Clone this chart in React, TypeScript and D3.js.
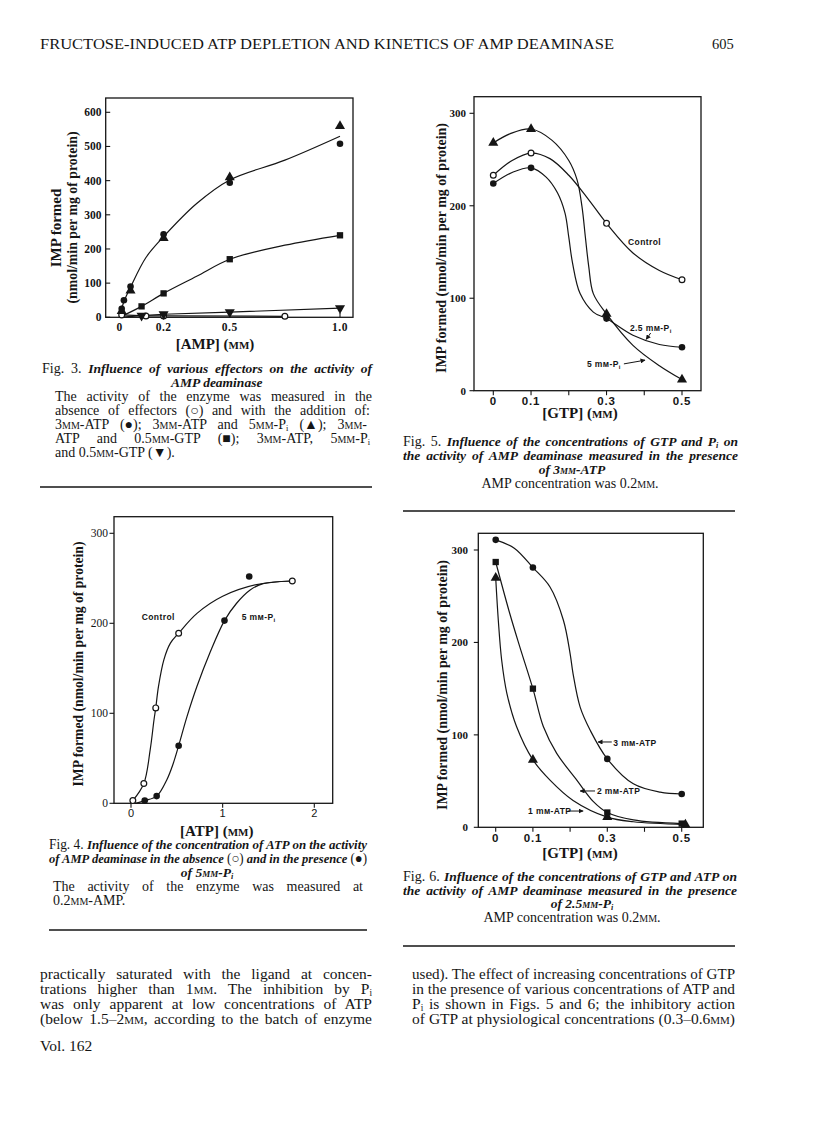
import React, { useLayoutEffect, useRef } from "react";
import * as d3 from "d3";

const SERIF = '"Liberation Serif", "Times New Roman", serif';
const SANS = '"Liberation Sans", Arial, sans-serif';
const INK = "#151515";

// ---------------- Fig. 3 data : IMP formed vs [AMP] ----------------
const f3XTicks = [0, 0.2, 0.5, 1.0];
const f3XTickLabels = ["0", "0.2", "0.5", "1.0"];
const f3YTicks = [0, 100, 200, 300, 400, 500, 600];
const f3AtpX = [0.01, 0.02, 0.05, 0.2, 0.5, 1.0];
const f3AtpY = [25, 50, 90, 243, 394, 508];
const f3AtpPiX = [0.01, 0.05, 0.2, 0.5, 1.0];
const f3AtpPiY = [18, 78, 232, 410, 560];
const f3AtpGtpX = [0.1, 0.2, 0.5, 1.0];
const f3AtpGtpY = [32, 70, 170, 240];
const f3AllX = [0.1, 0.2, 0.5, 1.0];
const f3AllY = [5, 9, 15, 27];
const f3CtrlX = [0.01, 0.12, 0.2, 0.75];
const f3CtrlY = [7, 4, 4, 3];
// hand-drawn fitted curves (traced)
const f3FitAtpX = [0, 0.01, 0.02, 0.05, 0.12, 0.2, 0.35, 0.5, 0.75, 1.0];
const f3FitAtpY = [0, 24, 46, 88, 175, 236, 333, 402, 460, 530];
const f3FitGtpX = [0, 0.1, 0.2, 0.35, 0.5, 0.75, 1.0];
const f3FitGtpY = [0, 32, 70, 120, 170, 211, 240];
const f3FitAllX = [0, 0.1, 0.2, 0.5, 1.0];
const f3FitAllY = [0, 5, 9, 15, 27];
const f3FitCtrlX = [0.01, 0.12, 0.2, 0.75];
const f3FitCtrlY = [7, 4, 4, 3];

// ---------------- Fig. 4 data : IMP formed vs [ATP] ----------------
const f4XTicks = [0, 1, 2];
const f4YTicks = [0, 100, 200, 300];
const f4CtrlX = [0.02, 0.14, 0.27, 0.52, 1.76];
const f4CtrlY = [3, 22, 106, 189, 247];
const f4PiX = [0.15, 0.28, 0.52, 1.02, 1.29];
const f4PiY = [3, 8, 64, 203, 252];
const f4FitCtrlX = [0.02, 0.14, 0.21, 0.25, 0.27, 0.3, 0.36, 0.43, 0.52, 0.72, 1.0, 1.37, 1.76];
const f4FitCtrlY = [3, 22, 60, 92, 106, 130, 160, 178, 189, 211, 230, 243, 247];
const f4FitPiX = [0.05, 0.15, 0.28, 0.39, 0.46, 0.52, 0.61, 0.72, 0.86, 1.02, 1.15, 1.3, 1.44, 1.76];
const f4FitPiY = [0, 3, 8, 26, 44, 64, 96, 130, 167, 203, 222, 237, 244, 247];

// ---------------- Fig. 5 data : IMP formed vs [GTP], 3mM-ATP ----------------
const f5XTicks = [0, 0.1, 0.2, 0.3, 0.4, 0.5];
const f5XLabelled = [0, 0.1, 0.3, 0.5];
const f5YTicks = [0, 100, 200, 300];
const f5X = [0, 0.1, 0.3, 0.5];
const f5Ctrl = [233, 257, 181, 120];
const f5Pi25 = [224, 241, 78, 47];
const f5Pi5 = [268, 283, 83, 12];
const f5FitCtrlX = [0, 0.05, 0.1, 0.15, 0.2, 0.25, 0.3, 0.37, 0.44, 0.5];
const f5FitCtrlY = [233, 249, 257, 251, 233, 208, 181, 149, 130, 120];
const f5FitPi25X = [0, 0.05, 0.1, 0.14, 0.17, 0.19, 0.2, 0.21, 0.23, 0.265, 0.3, 0.37, 0.44, 0.5];
const f5FitPi25Y = [224, 236, 241, 231, 214, 192, 166, 138, 105, 85, 78, 60, 50, 47];
const f5FitPi5X = [0, 0.045, 0.1, 0.155, 0.2, 0.222, 0.235, 0.244, 0.253, 0.265, 0.3, 0.37, 0.44, 0.5];
const f5FitPi5Y = [268, 278, 283, 271, 249, 228, 199, 166, 134, 105, 83, 49, 27, 12];

// ---------------- Fig. 6 data : IMP formed vs [GTP], 2.5mM-Pi ----------------
const f6XTicks = [0, 0.1, 0.2, 0.3, 0.4, 0.5];
const f6XLabelled = [0, 0.1, 0.3, 0.5];
const f6YTicks = [0, 100, 200, 300];
const f6X = [0, 0.1, 0.3, 0.5];
const f6Atp3 = [311, 281, 74, 36];
const f6Atp2 = [287, 150, 16, 4];
const f6Atp1X = [0, 0.1, 0.3, 0.51];
const f6Atp1 = [270, 73, 11, 3];
const f6FitAtp3X = [0, 0.05, 0.1, 0.146, 0.182, 0.2, 0.208, 0.227, 0.254, 0.3, 0.37, 0.442, 0.5];
const f6FitAtp3Y = [311, 302, 281, 260, 224, 188, 166, 130, 105, 74, 47, 38, 36];
const f6FitAtp2X = [0, 0.038, 0.065, 0.1, 0.128, 0.164, 0.218, 0.262, 0.3, 0.37, 0.5];
const f6FitAtp2Y = [287, 231, 195, 150, 109, 80, 51, 28, 16, 8, 4];
const f6FitAtp1X = [0, 0.007, 0.016, 0.03, 0.056, 0.1, 0.146, 0.208, 0.3, 0.37, 0.51];
const f6FitAtp1Y = [270, 224, 181, 145, 109, 73, 51, 29, 11, 6, 3];

type Shape = "dot" | "ring" | "tri" | "square" | "down";
type Pts = { xs: number[]; ys: number[] };

const zipPts = (xs: number[], ys: number[]) => xs.map((v, i) => [v, ys[i]] as [number, number]);

function Marker({ shape, cx, cy }: { shape: Shape; cx: number; cy: number }) {
  if (shape === "dot") return <circle cx={cx} cy={cy} r={3.3} fill={INK} />;
  if (shape === "ring")
    return <circle cx={cx} cy={cy} r={2.9} fill="#fff" stroke={INK} strokeWidth={1.2} />;
  const type = shape === "square" ? d3.symbolSquare : d3.symbolTriangle;
  const size = shape === "square" ? 40 : 44;
  const p = d3.symbol(type, size)() as string;
  const rot = shape === "down" ? 180 : 0;
  return <path d={p} transform={`translate(${cx},${cy}) rotate(${rot})`} fill={INK} />;
}

const Pi = () => (
  <>
    P<tspan baselineShift="-1.5" fontSize="0.6em">i</tspan>
  </>
);
const MM = () => <tspan style={{ fontVariant: "small-caps" }}>mm</tspan>;

// Justified text: word-spacing computed from the rendered width;
// if the line is naturally too wide it is squeezed instead.
function JText({
  x,
  y,
  width,
  children,
}: {
  x: number;
  y: number;
  width: number;
  children: React.ReactNode;
}) {
  const ref = useRef<SVGTextElement>(null);
  useLayoutEffect(() => {
    const fit = () => {
      const el = ref.current;
      if (!el) return;
      el.removeAttribute("textLength");
      el.removeAttribute("lengthAdjust");
      el.style.wordSpacing = "0px";
      const w = el.getComputedTextLength();
      const spaces = ((el.textContent || "").match(/ /g) || []).length;
      if (w > width) {
        el.setAttribute("textLength", String(width));
        el.setAttribute("lengthAdjust", "spacingAndGlyphs");
      } else if (spaces > 0) {
        el.style.wordSpacing = `${(width - w) / spaces}px`;
      }
    };
    fit();
    if ((document as any).fonts && (document as any).fonts.ready) {
      (document as any).fonts.ready.then(fit);
    }
  });
  return (
    <text ref={ref} x={x} y={y}>
      {children}
    </text>
  );
}

type PlotProps = {
  frame: [number, number, number, number];
  xDomain: [number, number];
  xRange: [number, number];
  yDomain: [number, number];
  yRange: [number, number];
  xTicks: number[];
  xLabelled: number[];
  xFmt: (v: number) => string;
  yTicks: number[];
  tickOut: boolean;
  yLabelRight: number;
  xLabelBase: number;
  yFont: { family: string; size: number; weight: number };
  xFont: { family: string; size: number; weight: number; ls?: number };
  series: { pts: Pts; shape: Shape }[];
  curves: { pts: Pts; curve: "smooth" | "straight" }[];
  extra?: (x: d3.ScaleLinear<number, number>, y: d3.ScaleLinear<number, number>) => React.ReactNode;
};

function Plot(p: PlotProps) {
  const x = d3.scaleLinear().domain(p.xDomain).range(p.xRange);
  const y = d3.scaleLinear().domain(p.yDomain).range(p.yRange);
  const [x0, y0, x1, y1] = p.frame;
  const smooth = d3
    .line<[number, number]>()
    .x((d) => x(d[0]))
    .y((d) => y(d[1]))
    .curve(d3.curveCatmullRom.alpha(0.5));
  const straight = d3
    .line<[number, number]>()
    .x((d) => x(d[0]))
    .y((d) => y(d[1]));
  const tl = 4.5;
  return (
    <g>
      <rect x={x0} y={y0} width={x1 - x0} height={y1 - y0} fill="none" stroke={INK} strokeWidth={1.3} />
      {p.yTicks.map((t) => (
        <g key={"y" + t}>
          <line
            x1={p.tickOut ? x0 - tl : x0}
            x2={p.tickOut ? x0 : x0 + tl}
            y1={y(t)}
            y2={y(t)}
            stroke={INK}
            strokeWidth={1.1}
          />
          <text
            x={p.yLabelRight}
            y={y(t)}
            dy="0.35em"
            textAnchor="end"
            fontFamily={p.yFont.family}
            fontSize={p.yFont.size}
            fontWeight={p.yFont.weight}
            fill={INK}
          >
            {t}
          </text>
        </g>
      ))}
      {p.xTicks.map((t) => (
        <line
          key={"x" + t}
          x1={x(t)}
          x2={x(t)}
          y1={y1}
          y2={p.tickOut ? y1 + tl : y1 - tl}
          stroke={INK}
          strokeWidth={1.1}
        />
      ))}
      {p.xLabelled.map((t) => (
        <text
          key={"xl" + t}
          x={x(t)}
          y={p.xLabelBase}
          textAnchor="middle"
          fontFamily={p.xFont.family}
          fontSize={p.xFont.size}
          fontWeight={p.xFont.weight}
          letterSpacing={p.xFont.ls || 0}
          fill={INK}
        >
          {p.xFmt(t)}
        </text>
      ))}
      {p.curves.map((c, i) => (
        <path
          key={"c" + i}
          d={(c.curve === "smooth" ? smooth : straight)(zipPts(c.pts.xs, c.pts.ys)) as string}
          fill="none"
          stroke={INK}
          strokeWidth={1.2}
        />
      ))}
      {p.series.map((s, i) =>
        s.pts.xs.map((v, j) => (
          <Marker key={"m" + i + "_" + j} shape={s.shape} cx={x(v)} cy={y(s.pts.ys[j])} />
        ))
      )}
      {p.extra ? p.extra(x, y) : null}
    </g>
  );
}

const capStyle = { fontFamily: SERIF, fontSize: 14, fill: INK } as const;
const bodyStyle = { fontFamily: SERIF, fontSize: 15.5, fill: INK } as const;
const It = ({ children }: { children: React.ReactNode }) => (
  <tspan fontStyle="italic" fontWeight="bold" fontSize={13.5}>
    {children}
  </tspan>
);

function Ann({ x, y, text }: { x: number; y: number; text: React.ReactNode }) {
  return (
    <text x={x} y={y} fontFamily={SANS} fontSize={8.5} fontWeight="bold" fill={INK} letterSpacing={0.4}>
      {text}
    </text>
  );
}
function Arrow({ x1, y1, x2, y2 }: { x1: number; y1: number; x2: number; y2: number }) {
  return <line x1={x1} y1={y1} x2={x2} y2={y2} stroke={INK} strokeWidth={1} markerEnd="url(#ah)" />;
}

const mmPi = (num: string) => (
  <>
    {num} mм-P<tspan baselineShift="-1.5" fontSize="0.7em">i</tspan>
  </>
);

export default function App() {
  const tickSerifB = { family: SERIF, size: 11, weight: 700 };
  const tickSansB = { family: SANS, size: 11.5, weight: 700, ls: 0.8 };
  const fmt1 = (v: number) => (v === 0 ? "0" : v.toFixed(1));
  const axTitle = { fontFamily: SERIF, fontSize: 15, fontWeight: "bold", fill: INK } as const;
  return (
    <svg
      width={816}
      height={1136}
      viewBox="0 0 816 1136"
      style={{ position: "absolute", left: 0, top: 0, background: "#fff" }}
    >
      <defs>
        <marker id="ah" viewBox="0 0 10 10" refX="9" refY="5" markerWidth="5" markerHeight="5" orient="auto">
          <path d="M0,0 L10,5 L0,10 z" fill={INK} />
        </marker>
      </defs>
      <rect width={816} height={1136} fill="#fff" />

      {/* Running head */}
      <text x={40} y={49} fontFamily={SERIF} fontSize={14.5} fill={INK} textLength={574} lengthAdjust="spacingAndGlyphs">
        FRUCTOSE-INDUCED ATP DEPLETION AND KINETICS OF AMP DEAMINASE
      </text>
      <text x={712} y={49} fontFamily={SERIF} fontSize={14.5} fill={INK}>
        605
      </text>

      {/* ---------------- Fig. 3 ---------------- */}
      <Plot
        frame={[105.7, 98, 353, 317.3]}
        xDomain={[0, 1]}
        xRange={[119.5, 340]}
        yDomain={[0, 600]}
        yRange={[317.3, 112.3]}
        xTicks={f3XTicks}
        xLabelled={f3XTicks}
        xFmt={(v) => f3XTickLabels[f3XTicks.indexOf(v)]}
        yTicks={f3YTicks}
        tickOut={false}
        yLabelRight={101.5}
        xLabelBase={331}
        yFont={{ family: SERIF, size: 11.5, weight: 700 }}
        xFont={{ family: SERIF, size: 11.5, weight: 700, ls: 0.5 }}
        curves={[
          { pts: { xs: f3FitAtpX, ys: f3FitAtpY }, curve: "smooth" },
          { pts: { xs: f3FitGtpX, ys: f3FitGtpY }, curve: "smooth" },
          { pts: { xs: f3FitAllX, ys: f3FitAllY }, curve: "straight" },
          { pts: { xs: f3FitCtrlX, ys: f3FitCtrlY }, curve: "straight" },
        ]}
        series={[
          { pts: { xs: f3CtrlX, ys: f3CtrlY }, shape: "ring" },
          { pts: { xs: f3AllX, ys: f3AllY }, shape: "down" },
          { pts: { xs: f3AtpGtpX, ys: f3AtpGtpY }, shape: "square" },
          { pts: { xs: f3AtpPiX, ys: f3AtpPiY }, shape: "tri" },
          { pts: { xs: f3AtpX, ys: f3AtpY }, shape: "dot" },
        ]}
      />
      <text transform="translate(56,228) rotate(-90)" textAnchor="middle" dominantBaseline="central" {...axTitle}>
        IMP formed
      </text>
      <text transform="translate(72,217.5) rotate(-90)" textAnchor="middle" dominantBaseline="central" {...axTitle} fontSize={14} textLength={172} lengthAdjust="spacingAndGlyphs">
        (nmol/min per mg of protein)
      </text>
      <text x={215} y={349} textAnchor="middle" {...axTitle}>
        [AMP] (<MM />)
      </text>

      <g {...capStyle}>
        <JText x={42} y={373} width={330}>
          Fig. 3. <It>Influence of various effectors on the activity of</It>
        </JText>
        <text x={216.7} y={387} textAnchor="middle">
          <It>AMP deaminase</It>
        </text>
        <JText x={55} y={401} width={317}>
          The activity of the enzyme was measured in the
        </JText>
        <JText x={55} y={415} width={315}>
          absence of effectors (○) and with the addition of:
        </JText>
        <JText x={55} y={429} width={312}>
          3<MM />-ATP (●); 3<MM />-ATP and 5<MM />-<Pi /> (▲); 3<MM />-
        </JText>
        <JText x={55} y={443} width={315}>
          ATP and 0.5<MM />-GTP (■); 3<MM />-ATP, 5<MM />-<Pi />
        </JText>
        <text x={55} y={457}>
          and 0.5<MM />-GTP (▼).
        </text>
      </g>
      <line x1={40} x2={372} y1={487} y2={487} stroke={INK} strokeWidth={1.3} />

      {/* ---------------- Fig. 5 ---------------- */}
      <Plot
        frame={[474, 96.7, 701, 390.7]}
        xDomain={[0, 0.5]}
        xRange={[493.3, 682]}
        yDomain={[0, 300]}
        yRange={[390.7, 113.3]}
        xTicks={f5XTicks}
        xLabelled={f5XLabelled}
        xFmt={fmt1}
        yTicks={f5YTicks}
        tickOut={true}
        yLabelRight={466}
        xLabelBase={405}
        yFont={tickSerifB}
        xFont={tickSansB}
        curves={[
          { pts: { xs: f5FitCtrlX, ys: f5FitCtrlY }, curve: "smooth" },
          { pts: { xs: f5FitPi25X, ys: f5FitPi25Y }, curve: "smooth" },
          { pts: { xs: f5FitPi5X, ys: f5FitPi5Y }, curve: "smooth" },
        ]}
        series={[
          { pts: { xs: f5X, ys: f5Ctrl }, shape: "ring" },
          { pts: { xs: f5X, ys: f5Pi25 }, shape: "dot" },
          { pts: { xs: f5X, ys: f5Pi5 }, shape: "tri" },
        ]}
        extra={(x, y) => (
          <g>
            <Ann x={x(0.357)} y={y(157.6)} text="Control" />
            <Ann x={x(0.362)} y={y(64.6)} text={mmPi("2.5")} />
            <Arrow x1={x(0.417)} y1={y(62.4)} x2={x(0.405)} y2={y(55.5)} />
            <Ann x={x(0.248)} y={y(25.6)} text={mmPi("5")} />
            <Arrow x1={x(0.346)} y1={y(29)} x2={x(0.402)} y2={y(33)} />
          </g>
        )}
      />
      <text transform="translate(440.5,248) rotate(-90)" textAnchor="middle" dominantBaseline="central" {...axTitle} textLength={250} lengthAdjust="spacingAndGlyphs">
        IMP formed (nmol/min per mg of protein)
      </text>
      <text x={580} y={418} textAnchor="middle" {...axTitle}>
        [GTP] (<MM />)
      </text>
      <g {...capStyle}>
        <JText x={403} y={446} width={335}>
          Fig. 5. <It>Influence of the concentrations of GTP and <Pi /> on</It>
        </JText>
        <JText x={403} y={460} width={335}>
          <It>the activity of AMP deaminase measured in the presence</It>
        </JText>
        <text x={572} y={474} textAnchor="middle">
          <It>
            of 3<MM />-ATP
          </It>
        </text>
        <text x={570} y={488} textAnchor="middle">
          AMP concentration was 0.2<MM />.
        </text>
      </g>
      <line x1={403} x2={735} y1={511} y2={511} stroke={INK} strokeWidth={1.3} />

      {/* ---------------- Fig. 4 ---------------- */}
      <Plot
        frame={[114, 516.7, 332.7, 803.3]}
        xDomain={[0, 2]}
        xRange={[131, 314.3]}
        yDomain={[0, 300]}
        yRange={[803.3, 533.3]}
        xTicks={f4XTicks}
        xLabelled={f4XTicks}
        xFmt={(v) => String(v)}
        yTicks={f4YTicks}
        tickOut={true}
        yLabelRight={108}
        xLabelBase={817}
        yFont={{ family: SERIF, size: 11.5, weight: 400 }}
        xFont={{ family: SANS, size: 11, weight: 400 }}
        curves={[
          { pts: { xs: f4FitCtrlX, ys: f4FitCtrlY }, curve: "smooth" },
          { pts: { xs: f4FitPiX, ys: f4FitPiY }, curve: "smooth" },
        ]}
        series={[
          { pts: { xs: f4CtrlX, ys: f4CtrlY }, shape: "ring" },
          { pts: { xs: f4PiX, ys: f4PiY }, shape: "dot" },
        ]}
        extra={(x, y) => (
          <g>
            <Ann x={x(0.117)} y={y(203.7)} text="Control" />
            <Ann x={x(1.208)} y={y(203.7)} text={mmPi("5")} />
          </g>
        )}
      />
      <text transform="translate(78.3,664) rotate(-90)" textAnchor="middle" dominantBaseline="central" {...axTitle} textLength={245} lengthAdjust="spacingAndGlyphs">
        IMP formed (nmol/min per mg of protein)
      </text>
      <text x={216.7} y={836} textAnchor="middle" {...axTitle}>
        [ATP] (<MM />)
      </text>
      <g {...capStyle}>
        <JText x={49} y={849} width={318}>
          Fig. 4. <It>Influence of the concentration of ATP on the activity</It>
        </JText>
        <JText x={49} y={863} width={318}>
          <It>of AMP deaminase in the absence </It>(○)<It> and in the presence </It>(●)
        </JText>
        <text x={207} y={877} textAnchor="middle">
          <It>
            of 5<MM />-<Pi />
          </It>
        </text>
        <JText x={53} y={891} width={310}>
          The activity of the enzyme was measured at
        </JText>
        <text x={53} y={905}>
          0.2<MM />-AMP.
        </text>
      </g>
      <line x1={49} x2={367} y1={930} y2={930} stroke={INK} strokeWidth={1.3} />

      {/* ---------------- Fig. 6 ---------------- */}
      <Plot
        frame={[478.3, 533.3, 703.3, 827.3]}
        xDomain={[0, 0.5]}
        xRange={[495.7, 681.7]}
        yDomain={[0, 300]}
        yRange={[827.3, 550]}
        xTicks={f6XTicks}
        xLabelled={f6XLabelled}
        xFmt={fmt1}
        yTicks={f6YTicks}
        tickOut={true}
        yLabelRight={468}
        xLabelBase={842}
        yFont={tickSerifB}
        xFont={tickSansB}
        curves={[
          { pts: { xs: f6FitAtp3X, ys: f6FitAtp3Y }, curve: "smooth" },
          { pts: { xs: f6FitAtp2X, ys: f6FitAtp2Y }, curve: "smooth" },
          { pts: { xs: f6FitAtp1X, ys: f6FitAtp1Y }, curve: "smooth" },
        ]}
        series={[
          { pts: { xs: f6X, ys: f6Atp3 }, shape: "dot" },
          { pts: { xs: f6X, ys: f6Atp2 }, shape: "square" },
          { pts: { xs: f6Atp1X, ys: f6Atp1 }, shape: "tri" },
        ]}
        extra={(x, y) => (
          <g>
            <Arrow x1={x(0.312)} y1={y(92.3)} x2={x(0.275)} y2={y(92.3)} />
            <Ann x={x(0.316)} y={y(88)} text={<>3 mм-ATP</>} />
            <Arrow x1={x(0.267)} y1={y(39.3)} x2={x(0.227)} y2={y(39.3)} />
            <Ann x={x(0.272)} y={y(36)} text={<>2 mм-ATP</>} />
            <Ann x={x(0.087)} y={y(14.4)} text={<>1 mм-ATP</>} />
            <Arrow x1={x(0.194)} y1={y(17.6)} x2={x(0.235)} y2={y(17.6)} />
          </g>
        )}
      />
      <text transform="translate(441.5,685) rotate(-90)" textAnchor="middle" dominantBaseline="central" {...axTitle} textLength={250} lengthAdjust="spacingAndGlyphs">
        IMP formed (nmol/min per mg of protein)
      </text>
      <text x={580} y={858} textAnchor="middle" {...axTitle}>
        [GTP] (<MM />)
      </text>
      <g {...capStyle}>
        <JText x={403} y={881} width={334}>
          Fig. 6. <It>Influence of the concentrations of GTP and ATP on</It>
        </JText>
        <JText x={403} y={895} width={334}>
          <It>the activity of AMP deaminase measured in the presence</It>
        </JText>
        <text x={582} y={908} textAnchor="middle">
          <It>
            of 2.5<MM />-<Pi />
          </It>
        </text>
        <text x={572} y={922} textAnchor="middle">
          AMP concentration was 0.2<MM />.
        </text>
      </g>
      <line x1={403} x2={735} y1={946} y2={946} stroke={INK} strokeWidth={1.3} />

      {/* ---------------- Body text ---------------- */}
      <g {...bodyStyle}>
        <JText x={40} y={979} width={332}>
          practically saturated with the ligand at concen-
        </JText>
        <JText x={40} y={994} width={332}>
          trations higher than 1<MM />. The inhibition by <Pi />
        </JText>
        <JText x={40} y={1009} width={332}>
          was only apparent at low concentrations of ATP
        </JText>
        <JText x={40} y={1024} width={332}>
          (below 1.5–2<MM />, according to the batch of enzyme
        </JText>
        <JText x={412} y={979} width={323}>
          used). The effect of increasing concentrations of GTP
        </JText>
        <JText x={412} y={994} width={323}>
          in the presence of various concentrations of ATP and
        </JText>
        <JText x={412} y={1009} width={323}>
          <Pi /> is shown in Figs. 5 and 6; the inhibitory action
        </JText>
        <JText x={412} y={1024} width={323}>
          of GTP at physiological concentrations (0.3–0.6<MM />)
        </JText>
        <text x={40} y={1051}>
          Vol. 162
        </text>
      </g>
    </svg>
  );
}
